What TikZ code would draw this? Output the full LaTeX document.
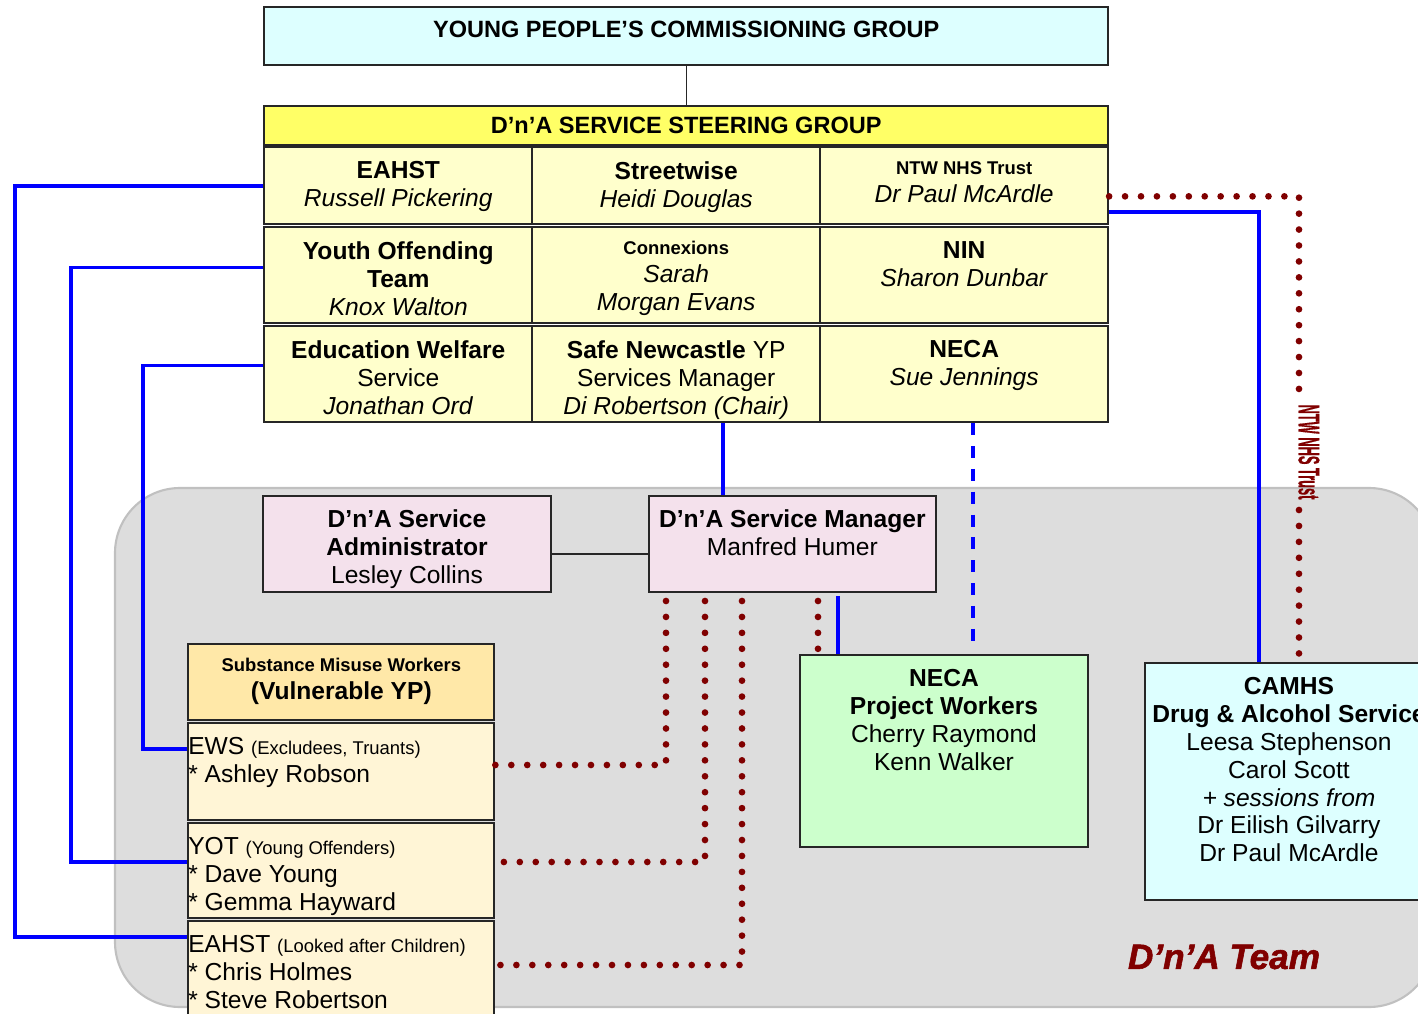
\documentclass[tikz,border=0pt]{standalone}
\usepackage{fontspec}
\setmainfont{Liberation Sans}
\newfontfamily\teamfont[BoldItalicFeatures={FakeBold=1.6}]{Liberation Sans}
\newfontfamily\ntwfont[BoldFeatures={FakeBold=0.8}]{Liberation Sans}
\usepackage{graphicx}
\usetikzlibrary{positioning}

\definecolor{cyanbox}{HTML}{DDFFFF}
\definecolor{steerhead}{HTML}{FFFF66}
\definecolor{steercell}{HTML}{FFFFCC}
\definecolor{pinkbox}{HTML}{F4E1EC}
\definecolor{greenbox}{HTML}{CCFFCC}
\definecolor{smwhead}{HTML}{FFE8A8}
\definecolor{smwcell}{HTML}{FFF5D6}
\definecolor{teamgrey}{HTML}{DDDDDD}
\definecolor{teamedge}{HTML}{C0C0C0}
\definecolor{dotred}{HTML}{800000}
\definecolor{linkblue}{HTML}{0000FF}

\newcommand{\smfont}{\fontsize{10.5}{12}\selectfont}
\newcommand{\topbox}[3]{\parbox[c][#2][t]{#1}{\centering\vspace*{8pt}#3}}
\newcommand{\leftbox}[3]{\parbox[c][#2][t]{#1}{\raggedright\vspace*{8pt}#3}}

\begin{document}
\begin{tikzpicture}[x=0.02cm, y=-0.02cm, font=\fontsize{14}{15.9}\selectfont,
  box/.style={draw=black!85, line width=1.1pt, inner sep=0pt},
  cell/.style={box, fill=steercell},
  smwbox/.style={box, fill=smwcell},
  blueline/.style={draw=linkblue, line width=2.1pt},
  bluedash/.style={draw=linkblue, line width=2.1pt, dash pattern=on 6.8pt off 6.2pt},
  dots/.style={draw=dotred, line width=3.8pt, line cap=round, dash pattern=on 0pt off 9.07pt}]

\clip (0,0) rectangle (1418,1014);
% D'n'A team area
\draw[fill=teamgrey, draw=teamedge, line width=1.2pt, rounded corners=1.3cm] (115,488) rectangle (1434,1007);

% steering group
\matrix (steer) [anchor=north west, row sep=0.6pt, column sep=-1.1pt, inner sep=0pt] at (263,146) {
\node(a)[cell]{\topbox{5.36cm}{1.54cm}{\textbf{EAHST}\\\textit{Russell Pickering}}}; &
\node(b)[cell]{\topbox{5.76cm}{1.54cm}{\textbf{Streetwise}\\\textit{Heidi Douglas}}}; &
\node(c)[cell]{\topbox{5.76cm}{1.54cm}{{\smfont\textbf{NTW NHS Trust}}\\\textit{Dr Paul McArdle}}}; \\
\node(d)[cell]{\topbox{5.36cm}{1.92cm}{\textbf{Youth Offending}\\\textbf{Team}\\\textit{Knox Walton}}}; &
\node(e)[cell]{\topbox{5.76cm}{1.92cm}{{\smfont\textbf{Connexions}}\\\textit{Sarah}\\\textit{Morgan Evans}}}; &
\node(f)[cell]{\topbox{5.76cm}{1.92cm}{\textbf{NIN}\\\textit{Sharon Dunbar}}}; \\
\node(g)[cell]{\topbox{5.36cm}{1.92cm}{\textbf{Education Welfare}\\Service\\\textit{Jonathan Ord}}}; &
\node(h)[cell]{\topbox{5.76cm}{1.92cm}{\textbf{Safe Newcastle} YP\\Services Manager\\\textit{Di Robertson (Chair)}}}; &
\node(i)[cell]{\topbox{5.76cm}{1.92cm}{\textbf{NECA}\\\textit{Sue Jennings}}}; \\
};
\node(ssg)[box, fill=steerhead, minimum width=16.88cm, minimum height=0.78cm, font=\fontsize{13.4}{15}\selectfont\bfseries, above=0pt of steer]{D’n’A SERVICE STEERING GROUP};
\node(ypcg)[box, fill=cyanbox, above=0.78cm of ssg]{\topbox{16.88cm}{1.16cm}{\fontsize{13.4}{15}\selectfont\textbf{YOUNG PEOPLE’S COMMISSIONING GROUP}}};

% team boxes
\node(admin)[box, fill=pinkbox] at (407,544) {\topbox{5.76cm}{1.92cm}{\textbf{D’n’A Service}\\\textbf{Administrator}\\Lesley Collins}};
\node(mgr)[box, fill=pinkbox, right=1.92cm of admin] {\topbox{5.74cm}{1.92cm}{\textbf{D’n’A Service Manager}\\Manfred Humer}};
\node(necab)[box, fill=greenbox] at (944,751) {\topbox{5.76cm}{3.84cm}{\textbf{NECA}\\\textbf{Project Workers}\\Cherry Raymond\\Kenn Walker}};
\node(camhs)[box, fill=cyanbox] at (1289,781.5) {\topbox{5.76cm}{4.74cm}{\textbf{CAMHS}\\\textbf{Drug \& Alcohol Service}\\Leesa Stephenson\\Carol Scott\\\textit{+ sessions from}\\Dr Eilish Gilvarry\\Dr Paul McArdle}};

\matrix (smw) [anchor=north west, row sep=0.6pt, inner sep=0pt] at (187,643) {
\node(lhead)[box, fill=smwhead]{\topbox{6.12cm}{1.52cm}{{\smfont\textbf{Substance Misuse Workers}}\\\textbf{(Vulnerable YP)}}}; \\
\node(lews)[smwbox]{\leftbox{6.12cm}{1.94cm}{EWS {\smfont(Excludees, Truants)}\\{*} Ashley Robson}}; \\
\node(lyot)[smwbox]{\leftbox{6.12cm}{1.9cm}{YOT {\smfont(Young Offenders)}\\{*} Dave Young\\{*} Gemma Hayward}}; \\
\node(lahst)[smwbox]{\leftbox{6.12cm}{2.2cm}{EAHST {\smfont(Looked after Children)}\\{*} Chris Holmes\\{*} Steve Robertson}}; \\
};

\node(ntwlbl)[rotate=-90, anchor=south, inner sep=0pt, text=dotred, font=\ntwfont\fontsize{17}{19}\selectfont\bfseries] at (1298,452) {\scalebox{0.43}[1]{NTW NHS Trust}};
\node(team)[text=dotred, font=\teamfont\fontsize{20}{24}\selectfont\bfseries\itshape] at (1224,957) {D’n’A Team};
\coordinate (ntwtop) at (1299,390);
\coordinate (ntwbot) at (1299,510);

% links
\draw[line width=0.8pt, black!85] (ypcg.south) -- (ssg.north);
\draw[line width=0.8pt, black!85] ([yshift=-5.67pt]admin.east) -- ([yshift=-5.67pt]mgr.west);
\draw[blueline] (a.west) -| (15,937) -- (lahst.west |- 15,937);
\draw[blueline] ([yshift=4.5pt]d.west) -| (71,862) -- (lyot.west |- 71,862);
\draw[blueline] ([yshift=5pt]g.west) -| (143,749) -- (lews.west |- 143,749);
\draw[blueline] ([yshift=-15pt]c.east) -| (camhs.north -| 1259,0);
\draw[dots] ([yshift=-6pt]c.east) -| (ntwtop);
\draw[dots] (ntwbot) -- (camhs.north -| ntwbot);
\draw[blueline] (h.south -| 723,0) -- (mgr.north -| 723,0);
\draw[bluedash, shorten >=5.5pt] (i.south -| 973,0) -- (necab.north -| 973,0);
\draw[blueline, shorten <=2pt] (mgr.south -| 838,0) -- (necab.north -| 838,0);
\draw[dots, dash phase=4.5pt] (mgr.south -| 666,0) |- (lews.east |- 0,765);
\draw[dots, dash phase=4.5pt] (mgr.south -| 705,0) |- (lyot.east |- 0,862);
\draw[dots, dash phase=4.5pt] (mgr.south -| 742,0) |- (lahst.east |- 0,965);
\draw[dots, dash phase=4.5pt] (mgr.south -| 818,0) -- (necab.north -| 818,0);
\end{tikzpicture}
\end{document}
